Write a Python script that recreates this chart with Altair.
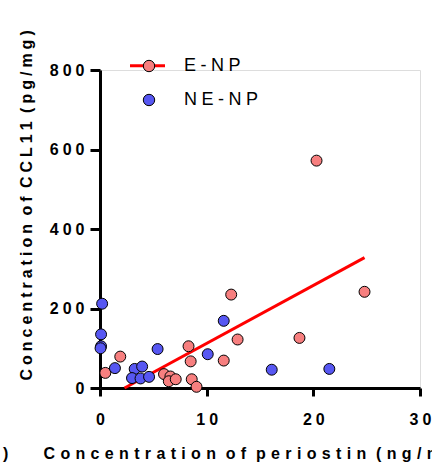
import altair as alt
import pandas as pd

# E-NP points
enp_x = [0.5, 1.9, 6.0, 6.6, 6.45, 7.1, 8.3, 8.5, 8.6, 9.05, 11.6, 12.3, 12.9, 18.7, 20.3, 24.8]
enp_y = [38, 79, 35, 29, 17, 22, 105, 67, 22, 3, 69, 235, 122, 126, 572, 242]
# NE-NP points
nenp_x = [0.2, 0.1, 0.1, 0.05, 1.4, 3.25, 3.95, 3.0, 3.8, 4.6, 5.4, 10.1, 11.6, 16.1, 21.5]
nenp_y = [212, 135, 105, 100, 50, 48, 54, 25, 24, 28, 98, 85, 169, 46, 48]
# E-NP regression line
line_x = [2.3, 24.8]
line_y = [0, 328]

groups = ["E-NP", "NE-NP"]
colors = ["#F77F7F", "#5757F2"]
x_ticks = [0, 10, 20, 30]
y_ticks = [0, 200, 400, 600, 800]


def spaced(s, sp):
    words = s.split(" ")
    return (sp + " ").join(sp.join(list(w)) for w in words)


x_title = spaced("Concentration of periostin (ng/ml)", "\u2004")
y_title = spaced("Concentration of CCL11 (pg/mg)", "\u2005")

pts = pd.DataFrame({
    "x": enp_x + nenp_x,
    "y": enp_y + nenp_y,
    "g": ["E-NP"] * len(enp_x) + ["NE-NP"] * len(nenp_x),
    "o": list(range(len(enp_x) + len(nenp_x))),
})
line_df = pd.DataFrame({"x": line_x, "y": line_y})

FONT = "Liberation Sans"
xscale = alt.Scale(domain=[0, 30], nice=False)
yscale = alt.Scale(domain=[0, 800], nice=False)

xaxis = alt.Axis(values=x_ticks, title=x_title, grid=False, domainColor="black", domainWidth=3,
                 tickColor="black", tickWidth=3, tickSize=8, labelFont=FONT, labelFontSize=16,
                 labelFontWeight="bold", labelColor="black", labelBaseline="alphabetic", labelPadding=28,
                 labelExpr="join(split(datum.label, ''), '\u2005')",
                 titleFont=FONT, titleFontSize=16, titleFontWeight="bold", titleColor="black",
                 titleAlign="left", titleBaseline="alphabetic", titleX=-57, titleY=70.5,
                 labelFlush=False, labelOverlap=False)
yaxis = alt.Axis(values=y_ticks, title=y_title, grid=False, domainColor="black", domainWidth=3,
                 tickColor="black", tickWidth=3, tickSize=10, labelFont=FONT, labelFontSize=16,
                 labelFontWeight="bold", labelColor="black", labelPadding=6,
                 labelExpr="join(split(datum.label, ''), '\u2005')",
                 titleFont=FONT, titleFontSize=16, titleFontWeight="bold", titleColor="black",
                 titleAngle=270, titleAlign="left", titleBaseline="alphabetic", titleX=-69, titleY=310,
                 labelFlush=False, labelOverlap=False)

line = alt.Chart(line_df).mark_line(color="#FF0000", strokeWidth=3).encode(
    x=alt.X("x:Q", scale=xscale, axis=xaxis),
    y=alt.Y("y:Q", scale=yscale, axis=yaxis),
)

points = alt.Chart(pts).mark_point(filled=True, shape="circle", size=120, stroke="black",
                                    strokeWidth=1, opacity=1).encode(
    x=alt.X("x:Q", scale=xscale),
    y=alt.Y("y:Q", scale=yscale),
    fill=alt.Fill("g:N", scale=alt.Scale(domain=groups, range=colors),
                  legend=alt.Legend(title=None, orient="none", legendX=40, legendY=-13,
                                    symbolType="circle", symbolSize=130, symbolStrokeColor="black",
                                    symbolStrokeWidth=1, symbolOpacity=1, labelFont=FONT,
                                    labelFontSize=18, labelColor="black", labelOffset=26,
                                    rowPadding=16, padding=0,
                                    labelExpr="join(split(datum.label, ''), '\u2005')")),
    order="o:Q",
)

legend_line = alt.Chart(pd.DataFrame({"a": [0]})).mark_rule(color="#FF0000", strokeWidth=3).encode(
    x=alt.value(30), x2=alt.value(65), y=alt.value(-4.3)
)

stray = alt.Chart(pd.DataFrame({"a": [0]})).mark_text(
    text=")", font=FONT, fontSize=16, fontWeight="bold", align="left", baseline="alphabetic", color="black"
).encode(x=alt.value(-97), y=alt.value(70.5 + 318))

chart = alt.layer(legend_line, line, points, stray).properties(
    width=320, height=318,
    autosize=alt.AutoSizeParams(type="none"),
    padding={"left": 100, "top": 70, "right": 12, "bottom": 83},
).configure_view(stroke=None).configure(background="white")

chart.save("out.html", embed_options={"renderer": "svg", "actions": False})
